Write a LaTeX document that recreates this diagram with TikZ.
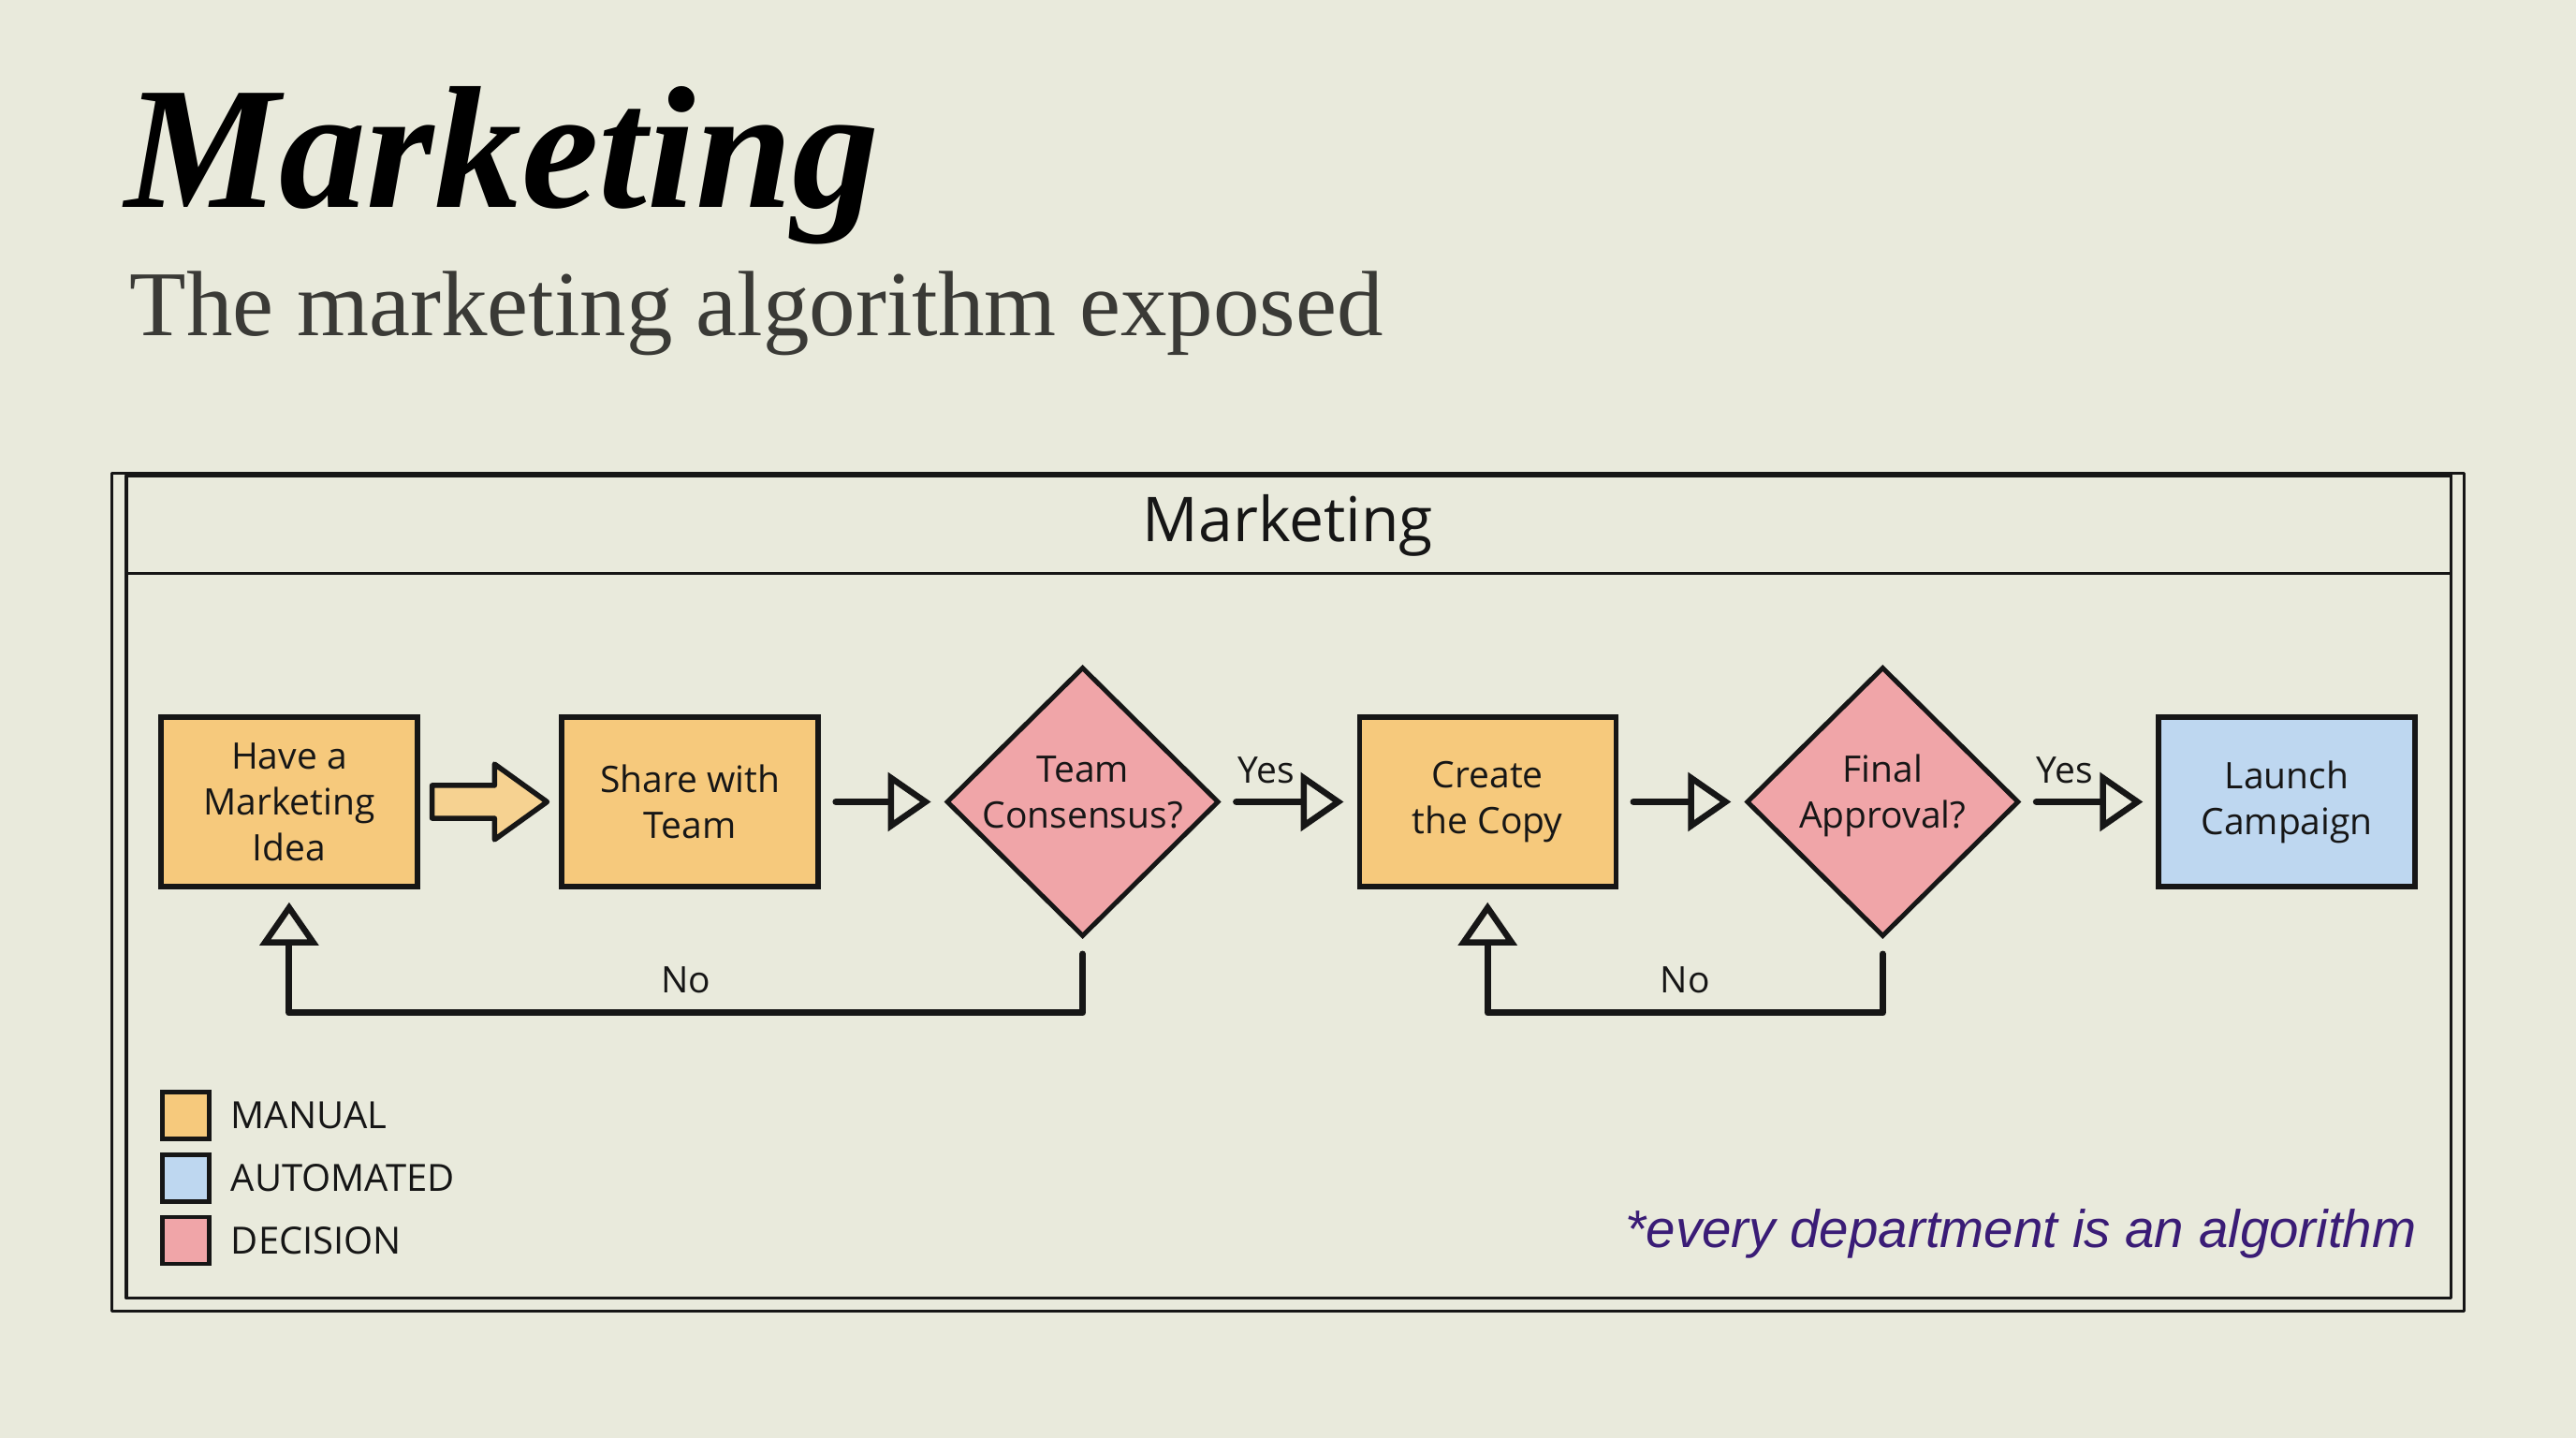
\documentclass[tikz,border=0pt]{standalone}
\usepackage{fontspec}
\usepackage{graphicx}
\setsansfont{Open Sans}
\newfontfamily\notefont{Liberation Sans}
\newfontfamily\titlefont{Liberation Serif}
\usetikzlibrary{shapes.geometric,arrows.meta,calc}
\definecolor{bg}{RGB}{233,234,220}
\definecolor{ink}{RGB}{22,22,22}
\definecolor{manualc}{RGB}{246,201,124}
\definecolor{autoc}{RGB}{190,215,240}
\definecolor{decc}{RGB}{240,165,168}
\definecolor{arrowfill}{RGB}{246,210,145}
\definecolor{subgray}{RGB}{58,58,54}
\definecolor{notec}{RGB}{58,28,118}
\newcommand\ndfont{\sffamily\fontsize{39}{49}\selectfont}
\tikzset{
  boxbase/.style={rectangle, draw=ink, line width=5.5pt, minimum width=274pt, minimum height=181pt, inner sep=0pt, align=center, text=ink, font=\ndfont},
  manual/.style={boxbase, fill=manualc},
  autobox/.style={boxbase, fill=autoc},
  decision/.style={diamond, draw=ink, line width=5pt, fill=decc, minimum width=291pt, minimum height=288pt, inner sep=0pt},
  ntext/.style={align=center, text=ink, font=\ndfont, inner sep=0pt},
  frame/.style={draw=ink, line width=3.5pt, line join=round},
  conn/.style={draw=ink, line width=7pt, line cap=round, line join=round, -{Triangle[open, length=46pt, width=62pt, line width=6.5pt]}, shorten <=16pt, shorten >=14pt},
  fat/.style={draw=ink, line width=5.5pt, line join=round, fill=arrowfill},
  lbl/.style={text=ink, font=\ndfont, inner sep=4pt},
  legbox/.style={draw=ink, line width=4.5pt, minimum size=50pt, inner sep=0pt},
  legtext/.style={text=ink, font=\sffamily\fontsize{40}{40}\selectfont, inner sep=0pt, anchor=west}
}
\begin{document}
\begin{tikzpicture}[x=1.7551pt,y=-1.7551pt]
\fill[bg] (0,0) rectangle (1568,875);
\useasboundingbox (0,0) rectangle (1568,875);

\node[anchor=base west, inner sep=0pt, text=black] (title) at (76,126.4) {\titlefont\fontsize{186}{186}\selectfont\bfseries\itshape Marketing};
\node[anchor=base west, inner sep=0pt, text=subgray] (subtitle) at (79,204) {\titlefont\fontsize{99}{99}\selectfont The marketing algorithm exposed};

\draw[frame] (68,288) rectangle (1500,798);
\draw[frame] (77,289.5) rectangle (1492,790);
\draw[frame] (77,349) -- (1492,349);
\node[text=ink, font=\sffamily\fontsize{66}{66}\selectfont] (hdr) at (784,320) {Marketing};

\node[manual] (idea) at (176,488) {Have a\\Marketing\\Idea};
\node[manual] (share) at (420,488) {Share with\\Team};
\node[decision] (cons) at (659,488) {};
\node[ntext] (consT) at (659,482) {Team\\Consensus?};
\node[manual] (create) at (905.5,488) {Create\\the Copy};
\node[decision] (final) at (1146,488) {};
\node[ntext] (finalT) at (1146,484) {Final\\Approval?};
\node[autobox] (launch) at (1392,488) {Launch\\Campaign};

\coordinate (ba) at ($(idea.east)!0.5!(share.west)$);
\draw[fat] ([shift={(-35,-10)}]ba) -- ++(38,0) -- ++(0,-13) -- ++(32,23) -- ++(-32,23) -- ++(0,-13) -- ++(-38,0) -- cycle;

\draw[conn] (share) -- (cons);
\draw[conn] (cons) -- node[lbl, pos=0.33, above=12pt] {Yes} (create);
\draw[conn] (create) -- (final);
\draw[conn] (final) -- node[lbl, pos=0.32, above=12pt] {Yes} (launch);

\draw[conn] (cons.south) -- ++(0,45) -| node[lbl, pos=0.25, above=14pt] {No} (idea.south);
\draw[conn] (final.south) -- ++(0,45) -| node[lbl, pos=0.25, above=14pt] {No} (create.south);

\node[legbox, fill=manualc] (lgm) at (113,679) {};
\node[legtext] (lgmT) at ($(lgm.east)+(12,0)$) {MANUAL};
\node[legbox, fill=autoc] (lga) at (113,717) {};
\node[legtext] (lgaT) at ($(lga.east)+(12,0)$) {AUTOMATED};
\node[legbox, fill=decc] (lgd) at (113,755) {};
\node[legtext] (lgdT) at ($(lgd.east)+(12,0)$) {DECISION};

\node[anchor=base east, inner sep=0pt, text=notec, font=\notefont\fontsize{56.5}{56.5}\selectfont\itshape] (note) at (1471,759) {*every department is an algorithm};
\end{tikzpicture}
\end{document}
